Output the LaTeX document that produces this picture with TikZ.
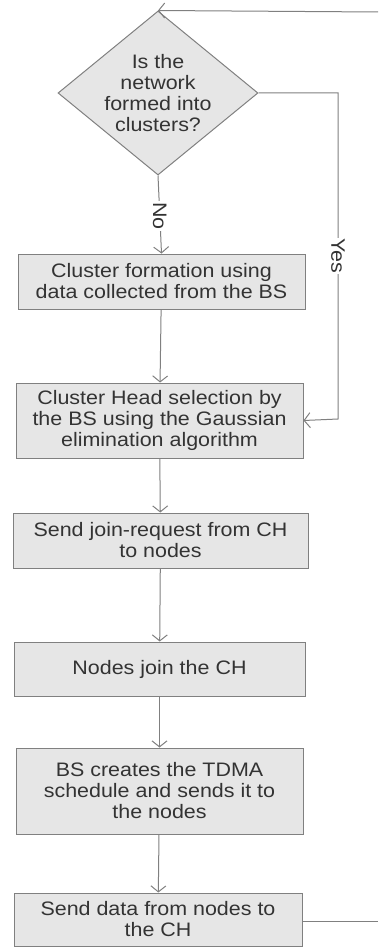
\documentclass[tikz,border=0pt]{standalone}
\usepackage{fontspec}
\setmainfont{Liberation Sans}[FakeStretch=1.1]
\usetikzlibrary{shapes.geometric,arrows.meta}
\definecolor{boxfill}{HTML}{E6E6E6}
\definecolor{boxline}{HTML}{808080}
\definecolor{ink}{HTML}{333333}
\begin{document}
\begin{tikzpicture}[x=1pt,y=-1pt,
  every node/.style={font=\fontsize{19.5}{21}\selectfont, text=ink},
  stepbox/.style={draw=boxline, fill=boxfill, line width=1pt, inner sep=0pt, align=center},
  decision/.style={diamond, draw=boxline, fill=boxfill, line width=1pt, inner sep=0pt,
                   minimum width=200pt, minimum height=164pt},
  flow/.style={draw=boxline, line width=1pt, -{Straight Barb[length=6pt,width=15pt]}},
  plain/.style={draw=boxline, line width=1pt},
  tag/.style={fill=white, inner sep=1pt, rotate=-90}]
\useasboundingbox (0,0) rectangle (378,947);

% decision
\node[decision] (q) at (158,93) {};
\node[align=center] (qtxt) at (q.center) {Is the\\network\\formed into\\clusters?};

% process steps
\node[stepbox, minimum width=287pt, minimum height=55pt] (s1) at (161.5,281.5)
  {Cluster formation using\\data collected from the BS};
\node[stepbox, minimum width=287pt, minimum height=75pt] (s2) at (159.5,420.5)
  {Cluster Head selection by\\the BS using the Gaussian\\elimination algorithm};
\node[stepbox, minimum width=295pt, minimum height=55pt] (s3) at (160.5,540.5)
  {Send join-request from CH\\to nodes};
\node[stepbox, minimum width=291pt, minimum height=54pt] (s4) at (159.5,669)
  {Nodes join the CH};
\node[stepbox, minimum width=287pt, minimum height=86pt] (s5) at (159.5,791)
  {BS creates the TDMA\\schedule and sends it to\\the nodes};
\node[stepbox, minimum width=288pt, minimum height=53pt] (s6) at (158,919.5)
  {Send data from nodes to\\the CH};

% loop ends
\coordinate (topin) at (378,12);
\coordinate (botout) at (378,921);
\coordinate (yc1) at (338,93);
\coordinate (yc2) at (338,419);

% connectors
\draw[flow] (q.south) -- node[tag, pos=0.52] {No} (s1.north);
\draw[flow] (q.east) -- (yc1) -- node[tag, pos=0.5] {Yes} (yc2) -- (s2.east);
\draw[flow] (s1) -- (s2);
\draw[flow] (s2) -- (s3);
\draw[flow] (s3) -- (s4);
\draw[flow] (s4) -- (s5);
\draw[flow] (s5) -- (s6);
\draw[flow] (topin) -- (q.north);
\draw[plain] (s6.east |- botout) -- (botout);
\end{tikzpicture}
\end{document}
